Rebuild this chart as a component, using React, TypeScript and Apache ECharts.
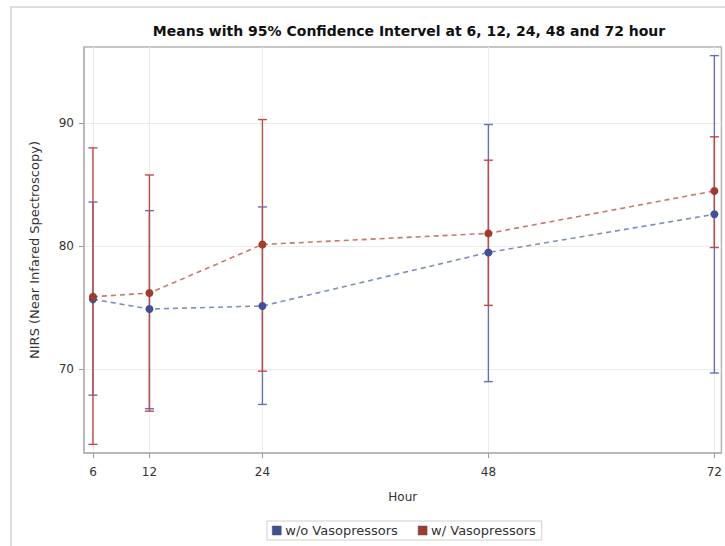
import React, { useEffect, useRef } from "react";
import * as echarts from "echarts";

const hours = [6, 12, 24, 48, 72];
const xTicks = [6, 12, 24, 48, 72];
const yTicks = [70, 80, 90];

const woMean = [75.7, 74.9, 75.15, 79.5, 82.6];
const woLower = [67.9, 66.8, 67.15, 69.0, 69.7];
const woUpper = [83.6, 82.9, 83.2, 89.9, 95.5];

const wMean = [75.9, 76.2, 80.15, 81.05, 84.5];
const wLower = [63.9, 66.6, 69.85, 75.2, 79.9];
const wUpper = [88.0, 85.8, 90.3, 87.0, 88.9];

const BLUE = "#3f4f98";
const RED = "#a23a2e";
const BLUE_BAR = "#6670b4";
const RED_BAR = "#c24a44";
const FONT = "DejaVu Sans, Liberation Sans, Arial, sans-serif";

function errorBarSeries(name: string, lower: number[], upper: number[], color: string, z: number) {
  return {
    type: "custom",
    name,
    z,
    silent: true,
    data: hours.map((h, i) => [h, lower[i], upper[i]]),
    encode: { x: 0, y: [1, 2] },
    renderItem: (params: any, api: any) => {
      const x = api.value(0);
      const lo = api.coord([x, api.value(1)]);
      const hi = api.coord([x, api.value(2)]);
      const hw = 4.5;
      const style = { stroke: color, lineWidth: 1.4 };
      return {
        type: "group",
        children: [
          { type: "line", shape: { x1: lo[0], y1: lo[1], x2: hi[0], y2: hi[1] }, style },
          { type: "line", shape: { x1: lo[0] - hw, y1: lo[1], x2: lo[0] + hw, y2: lo[1] }, style },
          { type: "line", shape: { x1: hi[0] - hw, y1: hi[1], x2: hi[0] + hw, y2: hi[1] }, style },
        ],
      };
    },
  };
}

function meanSeries(name: string, mean: number[], color: string, lineColor: string, z: number) {
  return {
    type: "line",
    name,
    z,
    data: hours.map((h, i) => [h, mean[i]]),
    symbol: "circle",
    symbolSize: 8,
    itemStyle: { color },
    lineStyle: { color: lineColor, width: 1.6, type: [5, 4] },
  };
}

export default function App() {
  const ref = useRef<HTMLDivElement>(null);
  useEffect(() => {
    if (!ref.current) return;
    const chart = echarts.init(ref.current, undefined, { renderer: "svg" });
    chart.setOption({
      animation: false,
      backgroundColor: "#ffffff",
      textStyle: { fontFamily: FONT },
      title: {
        text: "Means with 95% Confidence Intervel at 6, 12, 24, 48 and 72 hour",
        left: 404,
        top: 19,
        textAlign: "center",
        textStyle: { fontSize: 14, fontWeight: "bold", color: "#111", fontFamily: FONT },
      },
      graphic: [
        {
          type: "rect",
          shape: { x: 11, y: 7, width: 730, height: 560 },
          style: { fill: "none", stroke: "#d4d4d4", lineWidth: 1.5 },
          silent: true,
        },
      ],
      grid: {
        left: 84,
        right: 2,
        top: 47,
        bottom: 93,
        show: true,
        borderColor: "#b4b4b4",
        borderWidth: 1.5,
      },
      legend: {
        data: [
          { name: "w/o Vasopressors", itemStyle: { color: BLUE, borderColor: "#555", borderWidth: 0.5 } },
          { name: "w/ Vasopressors", itemStyle: { color: RED, borderColor: "#555", borderWidth: 0.5 } },
        ],
        icon: "rect",
        itemWidth: 9,
        itemHeight: 9,
        itemGap: 20,
        left: 267,
        top: 521,
        padding: [3, 6, 3, 5],
        borderColor: "#cfcfcf",
        borderWidth: 1,
        textStyle: { fontSize: 13, color: "#333", fontFamily: FONT, padding: [0, 0, 0, -1] },
      },
      xAxis: {
        type: "value",
        min: 5.05,
        max: 72.75,
        name: "Hour",
        nameLocation: "middle",
        nameGap: 38,
        nameTextStyle: { fontSize: 12, color: "#333", fontFamily: FONT },
        axisLine: { show: true, lineStyle: { color: "#b4b4b4", width: 1.5 } },
        axisTick: { show: true, length: 5, customValues: xTicks, lineStyle: { color: "#999" } },
        axisLabel: { customValues: xTicks, fontSize: 12, color: "#333", margin: 13 },
        splitLine: { show: true, lineStyle: { color: "#ececec", width: 1 } },
      },
      yAxis: {
        type: "value",
        min: 63.2,
        max: 96.2,
        name: "NIRS (Near Infared Spectroscopy)",
        nameLocation: "middle",
        nameGap: 43,
        nameTextStyle: { fontSize: 13, color: "#333", fontFamily: FONT },
        axisLine: { show: true, lineStyle: { color: "#b4b4b4", width: 1.5 } },
        axisTick: { show: true, length: 5, customValues: yTicks, lineStyle: { color: "#999" } },
        axisLabel: { customValues: yTicks, fontSize: 12, color: "#333", margin: 10 },
        splitLine: { show: true, lineStyle: { color: "#ececec", width: 1 } },
      },
      series: [
        errorBarSeries("CI w/o", woLower, woUpper, BLUE_BAR, 2),
        errorBarSeries("CI w/", wLower, wUpper, RED_BAR, 3),
        meanSeries("w/o Vasopressors", woMean, BLUE, "#7d8cc4", 4),
        meanSeries("w/ Vasopressors", wMean, RED, "#c7776c", 5),
      ],
    });
    return () => chart.dispose();
  }, []);
  return (
    <div
      ref={ref}
      style={{ position: "fixed", left: 0, top: 0, width: 725, height: 546, background: "#fff" }}
    />
  );
}
